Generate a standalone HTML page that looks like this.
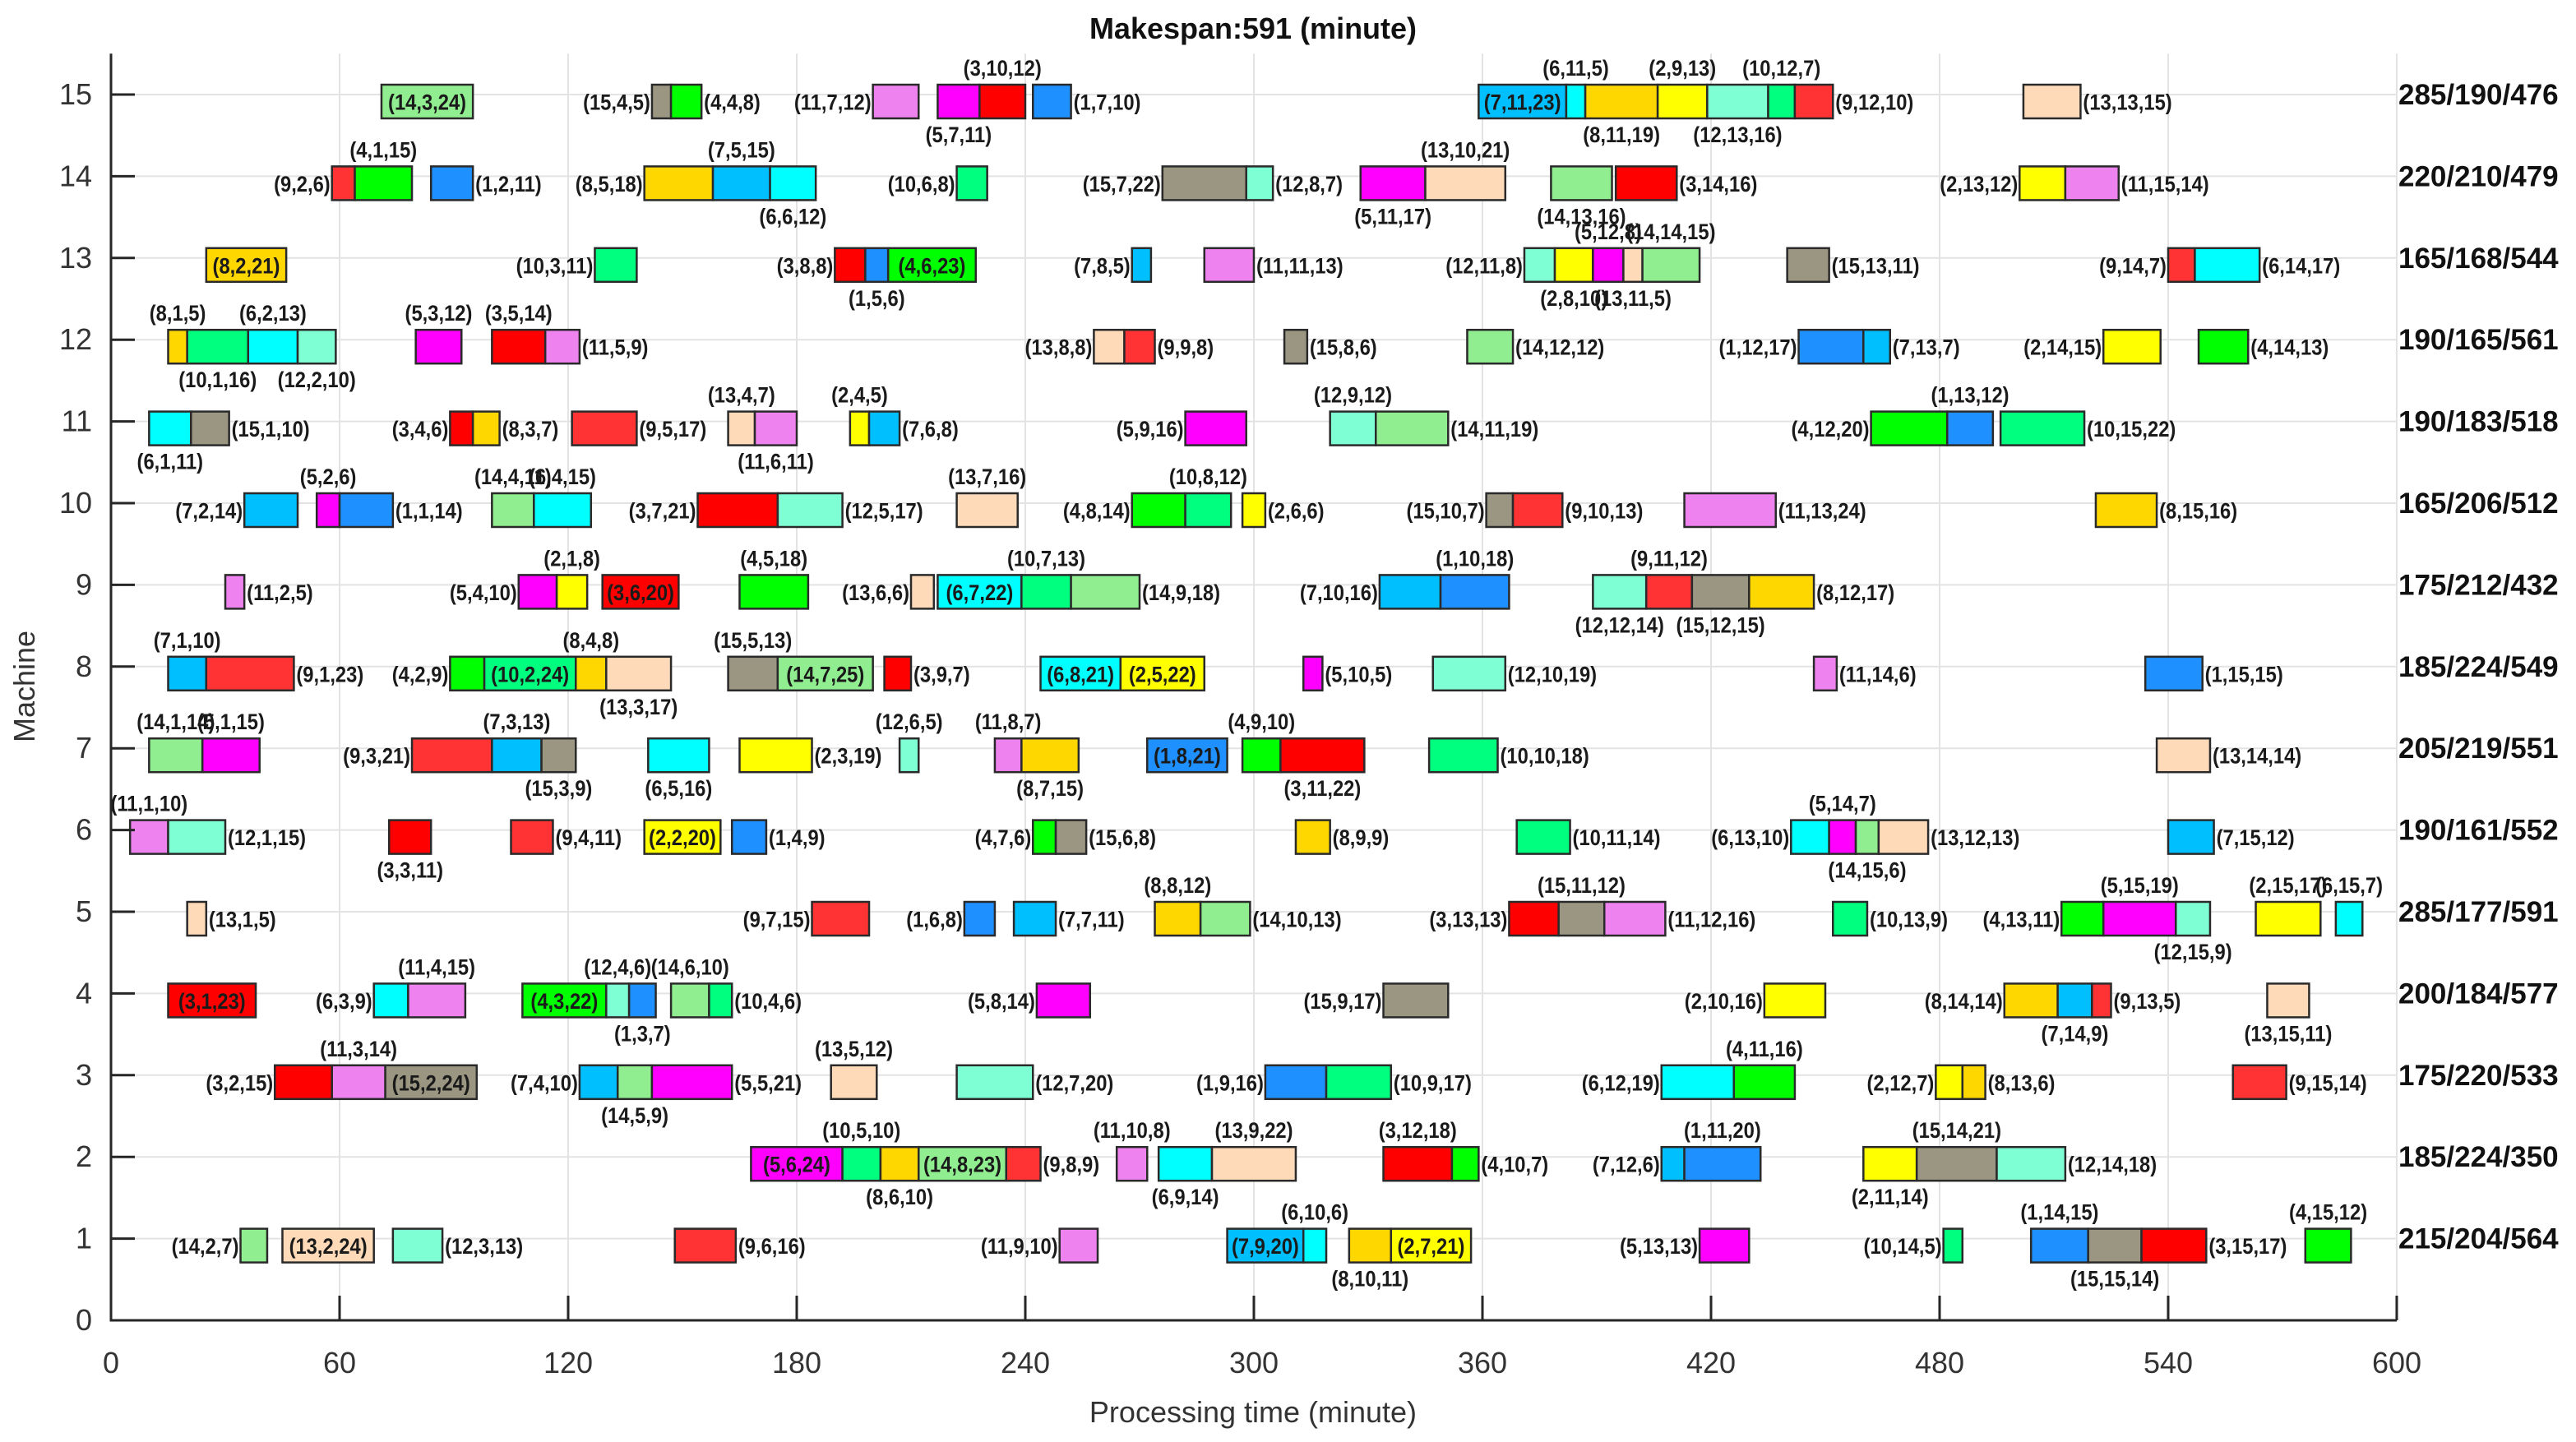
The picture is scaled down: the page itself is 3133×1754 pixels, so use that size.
<!DOCTYPE html>
<html><head><meta charset="utf-8"><style>
html,body{margin:0;padding:0;background:#fff;}
svg{display:block;font-family:"Liberation Sans",Arial,sans-serif;}
</style></head><body>
<svg id="chart" width="3133" height="1754" viewBox="0 0 3133 1754" xmlns="http://www.w3.org/2000/svg">
<text x="1524" y="47" text-anchor="middle" font-size="36" font-weight="bold" fill="#111">Makespan:591 (minute)</text>
<text x="1524" y="1730" text-anchor="middle" font-size="36" fill="#333">Processing time (minute)</text>
<text transform="translate(42,835) rotate(-90)" text-anchor="middle" font-size="36" fill="#333">Machine</text>
<g id="grid"></g>
<g id="bars"></g>
<g id="axes"></g>
</svg>
<script>
// rows ordered machine 15 -> 1
const machines = [15,14,13,12,11,10,9,8,7,6,5,4,3,2,1];
const rowSummary = ["285/190/476","220/210/479","165/168/544","190/165/561","190/183/518","165/206/512","175/212/432","185/224/549","205/219/551","190/161/552","285/177/591","200/184/577","175/220/533","185/224/350","215/204/564"];
const barJob = [
 [14,15,4,11,5,3,1,7,6,8,2,12,10,9,13],
 [9,4,1,8,7,6,10,15,12,5,13,14,3,2,11],
 [8,10,3,1,4,7,11,12,2,5,13,14,15,9,6],
 [8,10,6,12,5,3,11,13,9,15,14,1,7,2,4],
 [6,15,3,8,9,13,11,2,7,5,12,14,4,1,10],
 [7,5,1,14,6,3,12,13,4,10,2,15,9,11,8],
 [11,5,2,3,4,13,6,10,14,7,1,12,9,15,8],
 [7,9,4,10,8,13,15,14,3,6,2,5,12,11,1],
 [14,5,9,7,15,6,2,12,11,8,1,4,3,10,13],
 [11,12,3,9,2,1,4,15,8,10,6,5,14,13,7],
 [13,9,1,7,8,14,3,15,11,10,4,5,12,2,6],
 [3,6,11,4,12,1,14,10,5,15,2,8,7,9,13],
 [3,11,15,7,14,5,13,12,1,10,6,4,2,8,9],
 [5,10,8,14,9,11,6,13,3,4,7,1,2,15,12],
 [14,13,12,9,11,7,6,8,2,5,10,1,15,3,4]
];
const barOp = [
 [3,4,4,7,7,10,7,11,11,11,9,13,12,12,13],
 [2,1,2,5,5,6,6,7,8,11,10,13,14,13,15],
 [2,3,8,5,6,8,11,11,8,12,11,14,13,14,14],
 [1,1,2,2,3,5,5,8,9,8,12,12,13,14,14],
 [1,1,4,3,5,4,6,4,6,9,9,11,12,13,15],
 [2,2,1,4,4,7,5,7,8,8,6,10,10,13,15],
 [2,4,1,6,5,6,7,7,9,10,10,12,11,12,12],
 [1,1,2,2,4,3,5,7,9,8,5,10,10,14,15],
 [1,1,3,3,3,5,3,6,8,7,8,9,11,10,14],
 [1,1,3,4,2,4,7,6,9,11,13,14,15,12,15],
 [1,7,6,7,8,10,13,11,12,13,13,15,15,15,15],
 [1,3,4,3,4,3,6,4,8,9,10,14,14,13,15],
 [2,3,2,4,5,5,5,7,9,9,12,11,12,13,15],
 [6,5,6,8,8,10,9,9,12,10,12,11,11,14,14],
 [2,2,3,6,9,9,10,10,7,13,14,14,15,15,15]
];
const barDur = [
 [24,5,8,12,11,12,10,23,5,19,13,16,7,10,15],
 [6,15,11,18,15,12,8,22,7,17,21,16,16,12,14],
 [21,11,8,6,23,5,13,8,10,8,5,15,11,7,17],
 [5,16,13,10,12,14,9,8,8,6,12,17,7,15,13],
 [11,10,6,7,17,7,11,5,8,16,12,19,20,12,22],
 [14,6,14,11,15,21,17,16,14,12,6,7,13,24,16],
 [5,10,8,20,18,6,22,13,18,16,18,14,12,15,17],
 [10,23,9,24,8,17,13,25,7,21,22,5,19,6,15],
 [14,15,21,13,9,16,19,5,7,15,21,10,22,18,14],
 [10,15,11,11,20,9,6,8,9,14,10,7,6,13,12],
 [5,15,8,11,12,13,13,12,16,9,11,19,9,17,7],
 [23,9,15,22,6,7,10,6,14,17,16,14,9,5,11],
 [15,14,24,10,9,21,12,20,16,17,19,16,7,6,14],
 [24,10,10,23,9,8,14,22,18,7,6,20,14,21,18],
 [7,24,13,16,10,20,6,11,21,13,5,15,14,17,12]
];
const barStart = [
 [71,142,147,200,217,228,242,359,382,387,406,419,435,442,502],
 [58,64,84,140,158,173,222,276,298,328,345,378,395,501,513],
 [25,127,190,198,204,268,287,371,379,389,397,402,440,540,547],
 [15,20,36,49,80,100,114,258,266,308,356,443,460,523,548],
 [10,21,89,95,121,162,169,194,199,282,320,332,462,482,496],
 [35,54,60,100,111,154,175,222,268,282,297,361,368,413,521],
 [30,107,117,129,165,210,217,239,252,333,349,389,403,415,430],
 [15,25,89,98,122,130,162,175,203,244,265,313,347,447,534],
 [10,24,79,100,113,141,165,207,232,239,272,297,307,346,537],
 [5,15,73,105,140,163,242,248,311,369,441,451,458,464,540],
 [20,184,224,237,274,286,367,380,392,452,512,523,542,563,584],
 [15,69,78,108,130,136,147,157,243,334,434,497,511,520,566],
 [43,58,72,123,133,142,189,222,303,319,407,426,479,486,557],
 [168,192,202,212,235,264,275,289,334,352,407,413,460,474,495],
 [34,45,74,148,249,293,313,325,336,417,481,504,519,533,576]
];
// label placement: L left, R right, A above, B below, I inside
const barLabelPos = [
 "ILRLBARIABABARR","LARLABLLRBABRLR","ILLBILRLBABARLR","ABABAARLRRRLRLR","BRLRRABARLARLAR",
 "LARAALRALARLRRR","RLAIALIARLABABR","ARLIABAIRIIRRRR","AALABBRAABIABRR","ARBRIRLRRRLABRR",
 "RLLRARLARRLABAA","ILAIABARLLLLBRB","LAILBRARLRLALRR","IABIRABAARLABAR","LIRRLIABILLABRA"
];
const jobColors = {1:"#1E90FF",2:"#FFFF00",3:"#FF0000",4:"#00FF00",5:"#FF00FF",6:"#00FFFF",7:"#00BFFF",8:"#FFD700",9:"#FF3333",10:"#00FF7F",11:"#EE82EE",12:"#7FFFD4",13:"#FFDAB9",14:"#90EE90",15:"#9B9682"};
const xTicks = [0,60,120,180,240,300,360,420,480,540,600];
const yTicks = [0,1,2,3,4,5,6,7,8,9,10,11,12,13,14,15];

const NS = "http://www.w3.org/2000/svg";
const X = m => 135 + m * 4.6333;
const Y = v => 1606 - v * 99.4;
function mk(tag, attrs, parent, txt){
  const e = document.createElementNS(NS, tag);
  for (const k in attrs) e.setAttribute(k, attrs[k]);
  if (txt !== undefined) e.textContent = txt;
  parent.appendChild(e);
  return e;
}
const grid = document.getElementById('grid');
const bars = document.getElementById('bars');
const axes = document.getElementById('axes');

xTicks.forEach(t => {
  const g = mk('line', {x1:X(t), x2:X(t), y1:Y(15.5), y2:Y(0), stroke:"#e3e3e3", "stroke-width":2}, grid);
  
  
  const tk = mk('line', {x1:X(t), x2:X(t), y1:Y(0), y2:Y(0)-30, stroke:"#262626", "stroke-width":3}, axes);
  
  
  const lb = mk('text', {x:X(t), y:1670, "text-anchor":"middle", "font-size":36, fill:"#333"}, axes, String(t));
  
  
});
yTicks.forEach(t => {
  const g = mk('line', {x1:X(0), x2:X(600), y1:Y(t), y2:Y(t), stroke:"#e3e3e3", "stroke-width":2}, grid);
  
  
  const tk = mk('line', {x1:X(0), x2:X(0)+29, y1:Y(t), y2:Y(t), stroke:"#262626", "stroke-width":3}, axes);
  
  
  const lb = mk('text', {x:112, y:Y(t)+12, "text-anchor":"end", "font-size":36, fill:"#333"}, axes, String(t));
  
  
});
const ax1 = mk('line', {x1:X(0), x2:X(0), y1:Y(15.5), y2:Y(0)+1.5, stroke:"#262626", "stroke-width":3}, axes);


const ax2 = mk('line', {x1:X(0)-1.5, x2:X(600), y1:Y(0), y2:Y(0), stroke:"#262626", "stroke-width":3}, axes);



machines.forEach((m, r) => {
  const yc = Y(m);
  const top = yc - 12, h = 41;
  barJob[r].forEach((job, i) => {
    const s = barStart[r][i], d = barDur[r][i];
    const x0 = X(s), x1 = X(s + d);
    const rect = mk('rect', {x:x0, y:top, width:x1 - x0, height:h, fill:jobColors[job], stroke:"#2a2a2a", "stroke-width":2.5}, bars);
    
    
    const txt = "(" + job + "," + barOp[r][i] + "," + d + ")";
    const pos = barLabelPos[r][i];
    let tx, ty, anchor;
    if (pos === 'A') { tx = (x0 + x1) / 2; ty = top - 11; anchor = "middle"; }
    else if (pos === 'B') { tx = (x0 + x1) / 2; ty = top + h + 29; anchor = "middle"; }
    else if (pos === 'L') { tx = x0 - 2; ty = top + h / 2 + 10; anchor = "end"; }
    else if (pos === 'R') { tx = x1 + 3; ty = top + h / 2 + 10; anchor = "start"; }
    else { tx = (x0 + x1) / 2; ty = top + h / 2 + 10; anchor = "middle"; }
    const lb = mk('text', {x:0, y:0, transform:"translate(" + tx + "," + ty + ") scale(0.88,1)", "text-anchor":anchor, "font-size":27, "font-weight":"bold", fill:"#1a1a1a"}, bars, txt);
    
    
  });
  const sm = mk('text', {x:2917, y:yc + 12, "font-size":35, "font-weight":"bold", fill:"#111"}, axes, rowSummary[r]);
  
  
});
</script>
</body></html>
